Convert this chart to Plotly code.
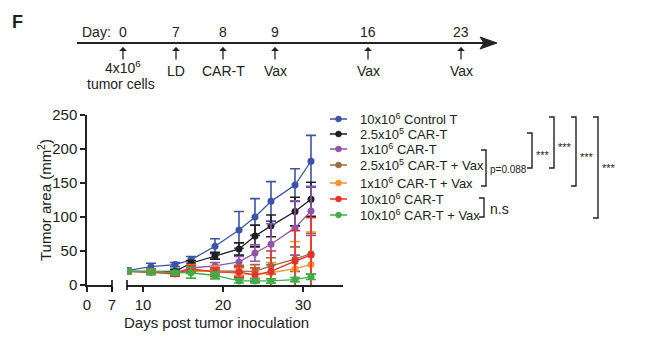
import plotly.graph_objects as go

# ---------------- data ----------------
days = [8, 11, 14, 16, 19, 22, 24, 26, 29, 31]

series_names = [
    "10x10<sup>6</sup> Control T",
    "2.5x10<sup>5</sup> CAR-T",
    "1x10<sup>6</sup> CAR-T",
    "2.5x10<sup>5</sup> CAR-T + Vax",
    "1x10<sup>6</sup> CAR-T + Vax",
    "10x10<sup>6</sup> CAR-T",
    "10x10<sup>6</sup> CAR-T + Vax",
]
control_t = [21, 27, 30, 37, 57, 81, 100, 123, 147, 182]
control_t_err = [4, 5, 3, 5, 11, 27, 27, 29, 24, 38]
car_25e4 = [20, 20, 20, 32, 43, 53, 72, 87, 108, 126]
car_25e4_err = [3, 3, 3, 4, 5, 9, 16, 16, 21, 25]
car_1e6 = [20, 20, 18, 25, 28, 34, 47, 60, 84, 109]
car_1e6_err = [3, 3, 3, 3, 5, 8, 12, 30, 40, 36]
car_25e4_vax = [20, 19, 17, 21, 21, 21, 20, 28, 38, 46]
car_25e4_vax_err = [3, 3, 3, 4, 5, 8, 10, 12, 18, 30]
car_1e6_vax = [20, 20, 17, 20, 20, 17, 15, 18, 24, 30]
car_1e6_vax_err = [3, 3, 3, 10, 8, 8, 10, 15, 40, 48]
car_10e6 = [20, 19, 16, 24, 19, 19, 15, 20, 35, 44]
car_10e6_err = [3, 4, 3, 5, 6, 8, 10, 30, 45, 55]
car_10e6_vax = [20, 19, 18, 18, 14, 6, 6, 6, 8, 12]
car_10e6_vax_err = [3, 3, 3, 8, 5, 3, 3, 3, 3, 4]

y_ticks = [0, 50, 100, 150, 200, 250]
x_ticks_left = [0, 7]
x_ticks_right = [10, 20, 30]

timeline_days = ["0", "7", "8", "9", "16", "23"]
timeline_events = ["4x10<sup>6</sup><br>tumor cells", "LD", "CAR-T", "Vax", "Vax", "Vax"]

colors = ["#3b55a5", "#1f1f1f", "#9055a6", "#9a6b3a", "#f39433", "#e5322d", "#3fae49"]
values = [control_t, car_25e4, car_1e6, car_25e4_vax, car_1e6_vax, car_10e6, car_10e6_vax]
errors = [control_t_err, car_25e4_err, car_1e6_err, car_25e4_vax_err,
          car_1e6_vax_err, car_10e6_err, car_10e6_vax_err]

W, H = 650, 342
FONT = "Liberation Sans, Arial, Helvetica, sans-serif"
TXT = "#222"


def px(x):
    return x / W


def py(y):
    return 1 - y / H


def label(text, x, y, size=14, **kw):
    d = dict(text=text, xref="paper", yref="paper", x=px(x), y=py(y), showarrow=False,
             xanchor="center", yanchor="middle",
             font=dict(size=size, family=FONT, color=TXT))
    d.update(kw)
    return d


fig = go.Figure()

# empty trace to make the left (0-7) axis segment exist
fig.add_trace(go.Scatter(x=[], y=[], xaxis="x", yaxis="y", showlegend=False))

for name, vals, errs, col in zip(series_names, values, errors, colors):
    fig.add_trace(go.Scatter(
        x=days, y=vals, name=name, mode="lines+markers",
        xaxis="x2", yaxis="y", showlegend=False,
        line=dict(color=col, width=1.3),
        marker=dict(color=col, size=7),
        error_y=dict(type="data", array=errs, visible=True, color=col,
                     thickness=1.6, width=5),
    ))

shapes = []
annotations = []

# ---------- compact legend (rows are tighter than Plotly's native legend allows) ----------
legend_rows_y = [119, 134, 149, 165, 183, 199, 215]
for name, col, ry in zip(series_names, colors, legend_rows_y):
    shapes.append(dict(type="line", xref="paper", yref="paper",
                       x0=px(330), x1=px(347), y0=py(ry), y1=py(ry),
                       line=dict(color=col, width=1.5)))
    shapes.append(dict(type="circle", xref="paper", yref="paper",
                       x0=px(335.5), x1=px(341.5), y0=py(ry + 3), y1=py(ry - 3),
                       fillcolor=col, line=dict(color=col, width=0.5)))
    annotations.append(label(name, 358, ry, 13, xanchor="left"))

# ---------- axis break marks ----------
for xb in [112, 127]:
    shapes.append(dict(type="line", xref="paper", yref="paper",
                       x0=px(xb), x1=px(xb), y0=py(280), y1=py(290),
                       line=dict(color="black", width=1.5)))

# ---------- axis titles ----------
annotations.append(label("Days post tumor inoculation", 216, 322, 15))
annotations.append(label("Tumor area (mm<sup>2</sup>)", 44, 200, 15, textangle=-90))

# ---------- panel letter ----------
annotations.append(label("<b>F</b>", 17, 22, 18))

# ---------- timeline ----------
line_y = 43
shapes.append(dict(type="line", xref="paper", yref="paper",
                   x0=px(77), x1=px(486), y0=py(line_y), y1=py(line_y),
                   line=dict(color=TXT, width=2)))
shapes.append(dict(type="path", xref="paper", yref="paper",
                   path=f"M {px(480)} {py(line_y-6)} L {px(497)} {py(line_y)} L {px(480)} {py(line_y+6)} L {px(484)} {py(line_y)} Z",
                   fillcolor=TXT, line=dict(color=TXT, width=1)))
annotations.append(label("Day:", 96, 32, 14))
tl_x = [123, 176, 223, 275, 368, 461]
for d, ev, xx in zip(timeline_days, timeline_events, tl_x):
    annotations.append(label(d, xx, 32, 14))
    annotations.append(dict(text="", xref="paper", yref="paper", x=px(xx), y=py(47),
                            ax=0, ay=14, showarrow=True, arrowhead=1, arrowsize=1,
                            arrowwidth=1.3, arrowcolor=TXT))
    if "tumor" in ev:
        annotations.append(label("4x10<sup>6</sup>", xx, 67, 14))
        annotations.append(label("tumor cells", xx - 2, 84, 14))
    else:
        annotations.append(label(ev, xx, 71, 14))

# ---------- significance brackets ----------
brackets = [  # x, y_top, y_bottom, label, label_x, label_y, size
    (486, 150, 186, "p=0.088", 508, 170, 10),
    (532, 133, 168, "***", 543, 155, 11),
    (554, 117, 168, "***", 565, 147, 11),
    (576, 117, 186, "***", 587, 157, 11),
    (598, 117, 218, "***", 609, 168, 11),
    (484, 198, 217, "n.s", 499, 209, 14),
]
for xb, yt, yb, lab, lx, ly, fs in brackets:
    shapes.append(dict(type="path", xref="paper", yref="paper",
                       path=f"M {px(xb-5)} {py(yt)} L {px(xb)} {py(yt)} L {px(xb)} {py(yb)} L {px(xb-5)} {py(yb)}",
                       line=dict(color=TXT, width=1.4)))
    annotations.append(label(lab, lx, ly, fs))

axis_common = dict(showline=True, linecolor=TXT, linewidth=1.5, ticks="outside",
                   ticklen=5, tickwidth=1.5, tickcolor=TXT, showgrid=False,
                   zeroline=False, automargin=False,
                   tickfont=dict(size=15, family=FONT, color=TXT))

fig.update_layout(
    width=W, height=H,
    margin=dict(l=0, r=0, t=0, b=0, pad=0, autoexpand=False),
    paper_bgcolor="white", plot_bgcolor="white",
    font=dict(family=FONT, color=TXT),
    xaxis=dict(domain=[px(87), px(112)], range=[0, 7], tickvals=x_ticks_left,
               anchor="y", **axis_common),
    xaxis2=dict(domain=[px(127), px(343)], range=[8, 35], tickvals=x_ticks_right,
                anchor="y", **axis_common),
    yaxis=dict(domain=[py(285), py(115)], range=[0, 250], tickvals=y_ticks,
               anchor="x", **axis_common),
    shapes=shapes,
    annotations=annotations,
    showlegend=False,
)

fig.write_html("out.html")
